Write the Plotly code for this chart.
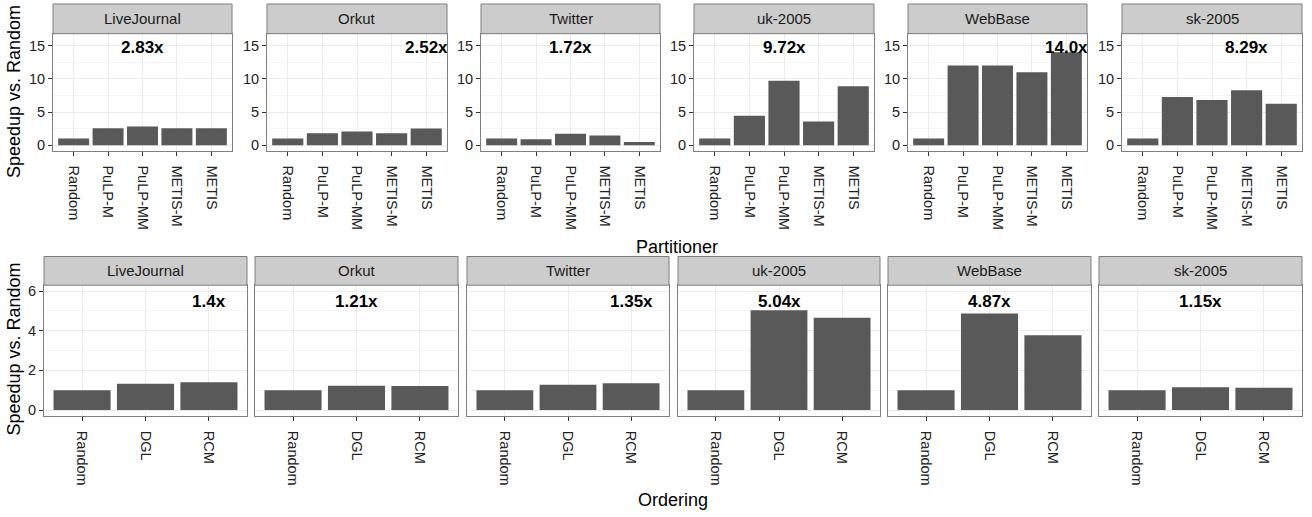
import plotly.graph_objects as go

datasets = ["LiveJournal", "Orkut", "Twitter", "uk-2005", "WebBase", "sk-2005"]

partitioners = ["Random", "PuLP-M", "PuLP-MM", "METIS-M", "METIS"]
part_livejournal = [1.0, 2.55, 2.83, 2.55, 2.55]
part_orkut = [1.0, 1.8, 2.07, 1.8, 2.52]
part_twitter = [1.0, 0.92, 1.72, 1.48, 0.5]
part_uk2005 = [1.0, 4.45, 9.72, 3.56, 8.9]
part_webbase = [1.0, 12.0, 12.0, 10.98, 14.0]
part_sk2005 = [1.0, 7.27, 6.82, 8.29, 6.23]
part_labels = ["2.83x", "2.52x", "1.72x", "9.72x", "14.0x", "8.29x"]

orderings = ["Random", "DGL", "RCM"]
ord_livejournal = [1.0, 1.33, 1.4]
ord_orkut = [1.0, 1.22, 1.21]
ord_twitter = [1.0, 1.28, 1.35]
ord_uk2005 = [1.0, 5.04, 4.66]
ord_webbase = [1.0, 4.87, 3.77]
ord_sk2005 = [1.0, 1.15, 1.12]
ord_labels = ["1.4x", "1.21x", "1.35x", "5.04x", "4.87x", "1.15x"]

part_values = [part_livejournal, part_orkut, part_twitter, part_uk2005, part_webbase, part_sk2005]
ord_values = [ord_livejournal, ord_orkut, ord_twitter, ord_uk2005, ord_webbase, ord_sk2005]

W, H = 1312, 517
FONT = "Liberation Sans, Arial, Helvetica, sans-serif"
BAR = "#595959"
BORDER = "#7f7f7f"
GRID = "#ebebeb"
MINOR = "#f5f5f5"
TICKC = "#333333"
TICKTXT = "#222222"
TICKFONT = 14.5

top_x = [(53, 232), (267, 447), (481, 660), (694, 874), (908, 1087), (1122, 1302)]
top_plot_y = (32, 150)
top_strip_y = (2, 32)
bot_x = [(44, 247), (255, 458), (467, 669), (678, 880), (888, 1091), (1099, 1302)]
bot_plot_y = (286, 418)
bot_strip_y = (257, 286)


def px_x(a):
    return a / W


def px_y(b):
    return 1 - b / H


fig = go.Figure()
layout = {}
shapes = []
annotations = []


def add_panel(idx, cats, vals, xr, yr, strip_y, name, ylim, ytickv, yminor, show_yticks, label, label_y):
    ax = "" if idx == 1 else str(idx)
    fig.add_trace(go.Bar(x=cats, y=vals, marker=dict(color=BAR, line=dict(width=0)),
                         xaxis="x" + ax, yaxis="y" + ax, showlegend=False, hoverinfo="x+y"))
    layout["xaxis" + ax] = dict(
        domain=[px_x(xr[0]), px_x(xr[1])], anchor="y" + ax,
        type="category", categoryorder="array", categoryarray=cats,
        range=[-0.6, len(cats) - 1 + 0.6],
        showgrid=True, gridcolor=GRID, gridwidth=1,
        showline=True, linecolor=BORDER, linewidth=1, mirror=True,
        ticks="outside", ticklen=4, tickcolor=TICKC, tickwidth=1,
        ticklabelstandoff=7,
        tickangle=90, tickfont=dict(family=FONT, size=TICKFONT, color=TICKTXT),
        zeroline=False, fixedrange=True,
    )
    layout["yaxis" + ax] = dict(
        domain=[px_y(yr[1]), px_y(yr[0])], anchor="x" + ax,
        range=list(ylim), tickmode="array", tickvals=ytickv,
        showgrid=True, gridcolor=GRID, gridwidth=1,
        minor=dict(tickmode="array", tickvals=yminor, showgrid=True, gridcolor=MINOR, gridwidth=1, ticks=""),
        showline=True, linecolor=BORDER, linewidth=1, mirror=True,
        ticks="outside" if show_yticks else "", ticklen=4, tickcolor=TICKC, tickwidth=1,
        showticklabels=show_yticks, tickfont=dict(family=FONT, size=TICKFONT, color=TICKTXT),
        zeroline=False, fixedrange=True,
    )
    shapes.append(dict(type="rect", xref="paper", yref="paper",
                       x0=px_x(xr[0]), x1=px_x(xr[1]), y0=px_y(strip_y[1]), y1=px_y(strip_y[0]),
                       fillcolor="#cccccc", line=dict(color=BORDER, width=1), layer="above"))
    annotations.append(dict(xref="paper", yref="paper", x=(px_x(xr[0]) + px_x(xr[1])) / 2,
                            y=(px_y(strip_y[0]) + px_y(strip_y[1])) / 2, text=name, showarrow=False,
                            font=dict(family=FONT, size=15, color="#1a1a1a"), xanchor="center", yanchor="middle"))
    imax = max(range(len(vals)), key=lambda i: vals[i])
    annotations.append(dict(xref="x" + ax, yref="y" + ax, x=cats[imax], y=label_y,
                            text="<b>" + label + "</b>", showarrow=False,
                            font=dict(family=FONT, size=17, color="black"), xanchor="center", yanchor="middle"))


for i in range(6):
    add_panel(i + 1, partitioners, part_values[i], top_x[i], top_plot_y, top_strip_y, datasets[i],
              (-0.8, 16.8), [0, 5, 10, 15], [2.5, 7.5, 12.5], True, part_labels[i], 14.7)
for i in range(6):
    add_panel(i + 7, orderings, ord_values[i], bot_x[i], bot_plot_y, bot_strip_y, datasets[i],
              (-0.3, 6.3), [0, 2, 4, 6], [1, 3, 5], i == 0, ord_labels[i], 5.46)

# axis titles
TITLEFONT = dict(family=FONT, size=18, color="black")
annotations.append(dict(xref="paper", yref="paper", x=px_x(677), y=px_y(247), text="Partitioner",
                        showarrow=False, font=TITLEFONT, xanchor="center", yanchor="middle"))
annotations.append(dict(xref="paper", yref="paper", x=px_x(673), y=px_y(503), text="Ordering",
                        showarrow=False, font=TITLEFONT, xanchor="center", yanchor="middle"))
annotations.append(dict(xref="paper", yref="paper", x=px_x(14), y=px_y(91), text="Speedup vs. Random",
                        showarrow=False, textangle=-90, font=TITLEFONT, xanchor="center", yanchor="middle"))
annotations.append(dict(xref="paper", yref="paper", x=px_x(14), y=px_y(351), text="Speedup vs. Random",
                        showarrow=False, textangle=-90, font=TITLEFONT, xanchor="center", yanchor="middle"))

fig.update_layout(
    width=W, height=H,
    margin=dict(l=0, r=0, t=0, b=0),
    paper_bgcolor="white", plot_bgcolor="white",
    bargap=0.1, showlegend=False,
    shapes=shapes, annotations=annotations,
    font=dict(family=FONT),
    **layout,
)

fig.write_html("out.html", config={"displayModeBar": False},
               post_script="document.body.style.margin='0';document.body.style.overflow='hidden';")
